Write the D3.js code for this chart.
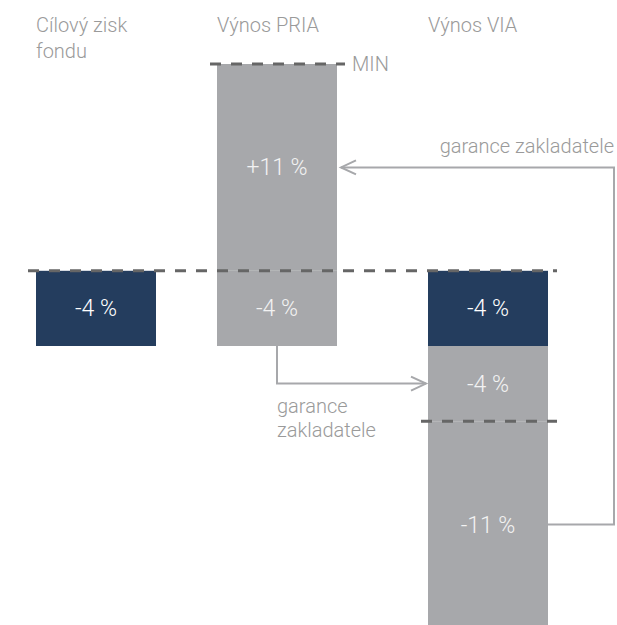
<!DOCTYPE html>
<html>
<head>
<meta charset="utf-8">
<script src="https://cdn.jsdelivr.net/npm/d3@7"></script>
<style>
  body { margin: 0; background: #fff; }
  svg text { font-family: Roboto, "Noto Sans", sans-serif; font-weight: 300; }
</style>
</head>
<body>
<div id="chart"></div>
<script>
// columns and their header lines
var columns = ["fond", "pria", "via"];
var headers = [["Cílový zisk", "fondu"], ["Výnos PRIA"], ["Výnos VIA"]];

// stacked segments per column (percent), from zero outwards
var segCol   = ["fond", "pria", "pria", "via", "via", "via"];
var segFrom  = [0, 0, 0, 0, -4, -8];
var segTo    = [-4, 11, -4, -4, -8, -19];
var segKind  = ["navy", "gray", "gray", "navy", "gray", "gray"];
var segLabel = ["-4 %", "+11 %", "-4 %", "-4 %", "-4 %", "-11 %"];

var width = 617, height = 625;
var colors = {navy: "#243d5e", gray: "#a7a8ab"};
var lineGray = "#a7a8ab";
var textGray = "#9a9a9a";
var barW = 120;

// column left edges (the gaps are not even in the original)
var x = d3.scaleOrdinal().domain(columns).range([36, 217, 428]);
var y = d3.scaleLinear().domain([-19, 11]).range([628, 64]);

var svg = d3.select("#chart").append("svg")
    .attr("width", width)
    .attr("height", height);

// headers
headers.forEach(function(lines, i){
    var t = svg.append("text")
        .attr("x", x(columns[i]))
        .attr("y", 32)
        .attr("font-size", "20px")
        .attr("fill", textGray);
    lines.forEach(function(l, j){
        t.append("tspan").attr("x", x(columns[i])).attr("dy", j == 0 ? 0 : 26).text(l);
    });
});

var segs = segCol.map(function(c, i){
    return {col: c, from: segFrom[i], to: segTo[i], kind: segKind[i], label: segLabel[i]};
});

svg.selectAll(".seg")
    .data(segs)
    .enter()
    .append("rect")
    .attr("class", "seg")
    .attr("x", function(d){ return x(d.col); })
    .attr("y", function(d){ return y(Math.max(d.from, d.to)); })
    .attr("width", barW)
    .attr("height", function(d){ return Math.abs(y(d.from) - y(d.to)); })
    .attr("fill", function(d){ return colors[d.kind]; });

svg.selectAll(".seg-label")
    .data(segs)
    .enter()
    .append("text")
    .attr("class", "seg-label")
    .attr("x", function(d){ return x(d.col) + barW/2; })
    .attr("y", function(d){ return y((d.from + d.to)/2); })
    .attr("dy", "0.35em")
    .attr("text-anchor", "middle")
    .attr("font-size", "23px")
    .attr("fill", function(d){ return d.kind == "navy" ? "#ffffff" : "#f2f2f2"; })
    .text(function(d){ return d.label; });

// dashed reference lines
function dashed(x1, x2, v){
    svg.append("line")
        .attr("x1", x1).attr("x2", x2)
        .attr("y1", y(v)).attr("y2", y(v))
        .attr("stroke", "#666")
        .attr("stroke-width", 3)
        .attr("stroke-dasharray", "11,10");
}
dashed(x("pria") - 7, x("pria") + barW + 8, 11);
dashed(28, x("via") + barW + 9, 0);
dashed(x("via") - 7, x("via") + barW + 9, -8);

svg.append("text")
    .attr("x", x("pria") + barW + 15)
    .attr("y", y(11))
    .attr("dy", "0.35em")
    .attr("font-size", "20px")
    .attr("fill", textGray)
    .text("MIN");

// arrows
function chevron(px, py, dir){
    svg.append("path")
        .attr("d", "M" + (px - dir*15) + "," + (py - 7) + "L" + px + "," + py + "L" + (px - dir*15) + "," + (py + 7))
        .attr("fill", "none")
        .attr("stroke", lineGray)
        .attr("stroke-width", 2);
}

var priaMid = x("pria") + barW/2;
var viaLow = y(-6);
svg.append("path")
    .attr("d", "M" + priaMid + "," + y(-4) + "V" + viaLow + "H" + (x("via") - 2))
    .attr("fill", "none")
    .attr("stroke", lineGray)
    .attr("stroke-width", 2);
chevron(x("via") - 2, viaLow, 1);

var lbl = svg.append("text")
    .attr("x", priaMid)
    .attr("y", viaLow + 29)
    .attr("font-size", "20px")
    .attr("fill", textGray);
lbl.append("tspan").attr("x", priaMid).text("garance");
lbl.append("tspan").attr("x", priaMid).attr("dy", 24).text("zakladatele");

var rightX = 614;
var fromY = y(-13.5), toY = y(5.5);
var tipX = x("pria") + barW + 4;
svg.append("path")
    .attr("d", "M" + (x("via") + barW) + "," + fromY + "H" + rightX + "V" + toY + "H" + tipX)
    .attr("fill", "none")
    .attr("stroke", lineGray)
    .attr("stroke-width", 2);
chevron(tipX, toY, -1);

svg.append("text")
    .attr("x", rightX)
    .attr("y", toY - 14)
    .attr("text-anchor", "end")
    .attr("font-size", "20px")
    .attr("fill", textGray)
    .text("garance zakladatele");
</script>
</body>
</html>
